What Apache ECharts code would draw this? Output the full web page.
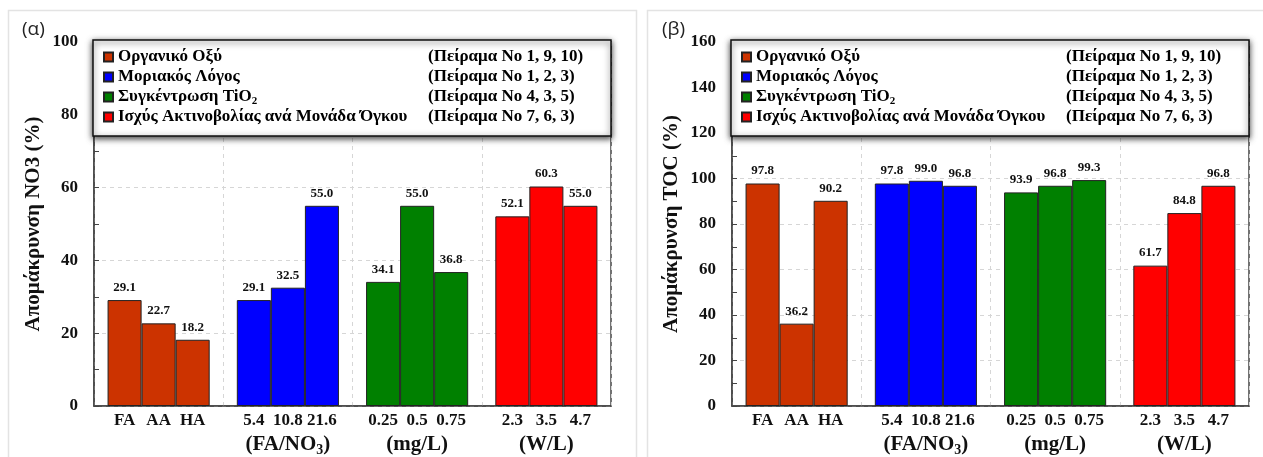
<!DOCTYPE html>
<html>
<head>
<meta charset="utf-8">
<script src="https://cdn.jsdelivr.net/npm/echarts@6/dist/echarts.min.js"></script>
<style>
  html, body { margin: 0; padding: 0; background: #fff; }
  #chart { width: 1263px; height: 457px; }
</style>
</head>
<body>
<div id="chart"></div>
<script>
// ομάδες πειραμάτων
const groupNames = ['Οργανικό Οξύ', 'Μοριακός Λόγος', 'Συγκέντρωση TiO2', 'Ισχύς Ακτινοβολίας ανά Μονάδα Όγκου'];
const experiments = ['(Πείραμα No 1, 9, 10)', '(Πείραμα No 1, 2, 3)', '(Πείραμα No 4, 3, 5)', '(Πείραμα No 7, 6, 3)'];
const groupUnits = ['', '(FA/NO3)', '(mg/L)', '(W/L)'];
const barLabels = [['FA', 'AA', 'HA'], ['5.4', '10.8', '21.6'], ['0.25', '0.5', '0.75'], ['2.3', '3.5', '4.7']];

// απομάκρυνση (%)
const no3Removal = [[29.1, 22.7, 18.2], [29.1, 32.5, 55.0], [34.1, 55.0, 36.8], [52.1, 60.3, 55.0]];
const tocRemoval = [[97.8, 36.2, 90.2], [97.8, 99.0, 96.8], [93.9, 96.8, 99.3], [61.7, 84.8, 96.8]];

const groupColors = ['#cc3300', '#0000ff', '#008000', '#ff0000'];
const SERIF = '"Liberation Serif", "Times New Roman", serif';
const LEG_FS = 17;

const measureCtx = document.createElement('canvas').getContext('2d');
function textWidth(str, size) {
    measureCtx.font = 'bold ' + size + 'px ' + SERIF;
    return measureCtx.measureText(str).width;
}

// "TiO2" -> rich με δείκτη
function withSubscript(str, base, sub) {
    return '{' + base + '|' + str.replace(/([A-Za-z])(\d)/g, '$1}{' + sub + '|$2}{' + base + '|') + '}';
}

const COL1 = 310;
const legendRich = {
    c: { width: COL1, fontFamily: SERIF, fontSize: LEG_FS, fontWeight: 'bold', lineHeight: 20, color: '#000' },
    n: { fontFamily: SERIF, fontSize: LEG_FS, fontWeight: 'bold', lineHeight: 20, color: '#000' },
    s: { fontFamily: SERIF, fontSize: 11, fontWeight: 'bold', lineHeight: 11, padding: [8, 0, 0, 0], color: '#000' },
    e: { width: 173, fontFamily: SERIF, fontSize: LEG_FS, fontWeight: 'bold', lineHeight: 20, color: '#000' }
};
groupNames.forEach((name, i) => {
    const m = name.match(/^(.*[A-Za-z])(\d)$/);
    if (m) legendRich['g' + i] = { width: COL1 - textWidth(m[1], LEG_FS) - textWidth(m[2], 11), lineHeight: 20 };
});

function legendFormatter(name) {
    const i = groupNames.indexOf(name);
    const m = name.match(/^(.*[A-Za-z])(\d)$/);
    if (m) return '{n|' + m[1] + '}{s|' + m[2] + '}{g' + i + '| }{e|' + experiments[i] + '}';
    return '{c|' + name + '}{e|' + experiments[i] + '}';
}

function xLabelFormatter(value, idx) {
    let s = barLabels[idx].map(l => '{t|' + l + '}').join('');
    if (groupUnits[idx]) s += '\n' + withSubscript(groupUnits[idx], 'u', 'us');
    return s;
}

function makeLegend(left) {
    return {
        left: left, top: 40, orient: 'vertical',
        data: groupNames,
        selectedMode: false,
        icon: 'rect', itemWidth: 9, itemHeight: 9, itemGap: 0,
        padding: [7, 10, 9, 10],
        backgroundColor: '#fff',
        borderColor: '#111', borderWidth: 1.5,
        shadowBlur: 6, shadowColor: 'rgba(0,0,0,0.75)', shadowOffsetY: 2,
        formatter: legendFormatter,
        textStyle: { fontFamily: SERIF, fontSize: LEG_FS, fontWeight: 'bold', lineHeight: 20, rich: legendRich }
    };
}

function makeXAxis(gridIndex) {
    return {
        type: 'category', gridIndex: gridIndex,
        data: groupNames,
        axisTick: { show: false },
        axisLine: { lineStyle: { color: '#444', width: 1.5 } },
        splitLine: { show: true, lineStyle: { color: '#d6d6d6', type: [4, 4] } },
        axisLabel: {
            interval: 0, margin: 5,
            formatter: xLabelFormatter,
            rich: {
                t: { width: 34, align: 'center', fontFamily: SERIF, fontSize: 17, fontWeight: 'bold', lineHeight: 20, color: '#111' },
                u: { align: 'center', fontFamily: SERIF, fontSize: 21, fontWeight: 'bold', lineHeight: 27, color: '#111' },
                us: { align: 'center', fontFamily: SERIF, fontSize: 14, fontWeight: 'bold', lineHeight: 14, padding: [11, 0, 0, 0], color: '#111' }
            }
        }
    };
}

function makeYAxis(gridIndex, max, name) {
    return {
        type: 'value', gridIndex: gridIndex,
        min: 0, max: max, interval: 20,
        name: name, nameLocation: 'middle', nameGap: 50,
        nameTextStyle: { fontFamily: SERIF, fontSize: 21, fontWeight: 'bold', color: '#111' },
        axisLine: { show: true, lineStyle: { color: '#444', width: 1.5 } },
        axisTick: { show: true, inside: true, length: 5, lineStyle: { color: '#444' } },
        minorTick: { show: true, splitNumber: 2, length: 5, lineStyle: { color: '#444' } },
        splitLine: { show: true, lineStyle: { color: '#d6d6d6', type: [4, 4] } },
        axisLabel: { margin: 16, fontFamily: SERIF, fontSize: 17, fontWeight: 'bold', color: '#111' }
    };
}

function slotSeries(values, gridIndex) {
    return [0, 1, 2].map(slot => ({
        type: 'bar',
        xAxisIndex: gridIndex, yAxisIndex: gridIndex,
        barGap: '0%', barCategoryGap: '21%',
        data: values.map((g, i) => ({ value: g[slot], itemStyle: { color: groupColors[i] } })),
        itemStyle: { borderColor: '#222', borderWidth: 1 },
        label: {
            show: true, position: 'top', distance: 6,
            fontFamily: SERIF, fontSize: 13, fontWeight: 'bold', color: '#111',
            formatter: p => p.value.toFixed(1)
        }
    }));
}

// σειρές μόνο για το υπόμνημα
const legendSeries = groupNames.map((name, i) => ({
    type: 'bar', name: name,
    xAxisIndex: 2, yAxisIndex: 0,
    data: [],
    itemStyle: { color: groupColors[i], borderColor: '#222', borderWidth: 1 }
}));

const chart = echarts.init(document.getElementById('chart'));
chart.setOption({
    animation: false,
    backgroundColor: '#fff',
    title: [
        { text: '(α)', left: 22, top: 20, padding: 0, textStyle: { fontFamily: '"Open Sans", sans-serif', fontSize: 19, fontWeight: 'normal', color: '#222' } },
        { text: '(β)', left: 662, top: 20, padding: 0, textStyle: { fontFamily: '"Open Sans", sans-serif', fontSize: 19, fontWeight: 'normal', color: '#222' } }
    ],
    graphic: [
        { type: 'rect', silent: true, z: -10, shape: { x: 8.5, y: 10.5, width: 628, height: 470 }, style: { fill: 'none', stroke: '#e3e3e3', lineWidth: 1.5 } },
        { type: 'rect', silent: true, z: -10, shape: { x: 647.5, y: 10.5, width: 640, height: 470 }, style: { fill: 'none', stroke: '#e3e3e3', lineWidth: 1.5 } }
    ],
    legend: [makeLegend(93), makeLegend(731)],
    grid: [
        { left: 94, top: 42, width: 517, height: 364, show: true, borderColor: '#444', borderWidth: 1.5, backgroundColor: 'transparent' },
        { left: 732, top: 42, width: 517, height: 364, show: true, borderColor: '#444', borderWidth: 1.5, backgroundColor: 'transparent' }
    ],
    xAxis: [makeXAxis(0), makeXAxis(1), { type: 'category', gridIndex: 0, show: false, data: [''] }],
    yAxis: [makeYAxis(0, 100, 'Απομάκρυνση NO3 (%)'), makeYAxis(1, 160, 'Απομάκρυνση TOC (%)')],
    series: [...slotSeries(no3Removal, 0), ...slotSeries(tocRemoval, 1), ...legendSeries]
});
</script>
</body>
</html>
